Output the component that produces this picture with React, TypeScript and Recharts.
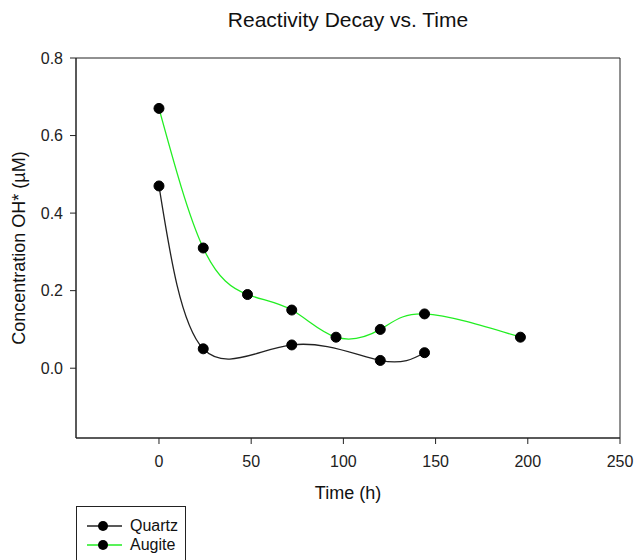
import React from 'react'
import { LineChart, Line, XAxis, YAxis, ReferenceArea } from 'recharts'

const quartzHours = [0, 24, 72, 120, 144]
const quartzConc = [0.47, 0.05, 0.06, 0.02, 0.04]
const augiteHours = [0, 24, 48, 72, 96, 120, 144, 196]
const augiteConc = [0.67, 0.31, 0.19, 0.15, 0.08, 0.1, 0.14, 0.08]

const xTicks = [0, 50, 100, 150, 200, 250]
const yTicks = [0, 0.2, 0.4, 0.6, 0.8]
const xDomain: [number, number] = [-45, 250]
const yDomain: [number, number] = [-0.18, 0.8]

const FONT = 'Arial, "Liberation Sans", sans-serif'

const quartz = quartzHours.map((h, i) => ({ h, v: quartzConc[i] }))
const augite = augiteHours.map((h, i) => ({ h, v: augiteConc[i] }))

const tickStyle = { fill: '#222', fontSize: 16, fontFamily: FONT }

function LegendRow({ color, label }: { color: string; label: string }) {
  return (
    <div style={{ display: 'flex', alignItems: 'center', height: 19 }}>
      <svg width={40} height={14} style={{ marginLeft: 10 }}>
        <line x1={0} y1={7} x2={35} y2={7} stroke={color} strokeWidth={1.5} />
        <circle cx={16} cy={7} r={5} fill="#000" />
      </svg>
      <span style={{ marginLeft: 3, fontSize: 16, color: '#111' }}>{label}</span>
    </div>
  )
}

export default function App() {
  return (
    <div style={{ position: 'absolute', left: 0, top: 0, width: 634, height: 560, background: '#fff', fontFamily: FONT, overflow: 'hidden' }}>
      <div style={{ position: 'absolute', left: 76, width: 544, top: 8, textAlign: 'center', fontSize: 21, color: '#111' }}>
        Reactivity Decay vs. Time
      </div>
      <LineChart width={634} height={560} margin={{ top: 58, right: 14, left: 0, bottom: 62 }}>
        <XAxis
          type="number"
          dataKey="h"
          domain={xDomain}
          ticks={xTicks}
          allowDataOverflow
          height={60}
          tick={tickStyle}
          tickSize={6}
          tickMargin={12}
          stroke="#222"
          label={{ value: 'Time (h)', position: 'insideBottom', offset: -1, fill: '#111', fontSize: 18, fontFamily: FONT }}
        />
        <YAxis
          type="number"
          dataKey="v"
          domain={yDomain}
          ticks={yTicks}
          allowDataOverflow
          width={76}
          tick={tickStyle}
          tickSize={6}
          tickMargin={7}
          tickFormatter={(v: number) => v.toFixed(1)}
          stroke="#222"
          label={{ value: 'Concentration OH* (\u00b5M)', angle: -90, position: 'insideLeft', offset: 19, style: { textAnchor: 'middle' }, fill: '#111', fontSize: 18, fontFamily: FONT }}
        />
        <ReferenceArea x1={xDomain[0]} x2={xDomain[1]} y1={yDomain[0]} y2={yDomain[1]} fill="none" stroke="#222" strokeWidth={1} />
        <Line
          data={quartz}
          dataKey="v"
          type="natural"
          stroke="#222"
          strokeWidth={1.3}
          dot={{ r: 5, fill: '#000', stroke: '#000', strokeWidth: 1 }}
          isAnimationActive={false}
        />
        <Line
          data={augite}
          dataKey="v"
          type="natural"
          stroke="#22ee22"
          strokeWidth={1.3}
          dot={{ r: 5, fill: '#000', stroke: '#000', strokeWidth: 1 }}
          isAnimationActive={false}
        />
      </LineChart>
      <div style={{ position: 'absolute', left: 76, top: 506, width: 110, height: 70, border: '1px solid #222', paddingTop: 9, boxSizing: 'border-box' }}>
        <LegendRow color="#222" label="Quartz" />
        <LegendRow color="#22ee22" label="Augite" />
      </div>
    </div>
  )
}
